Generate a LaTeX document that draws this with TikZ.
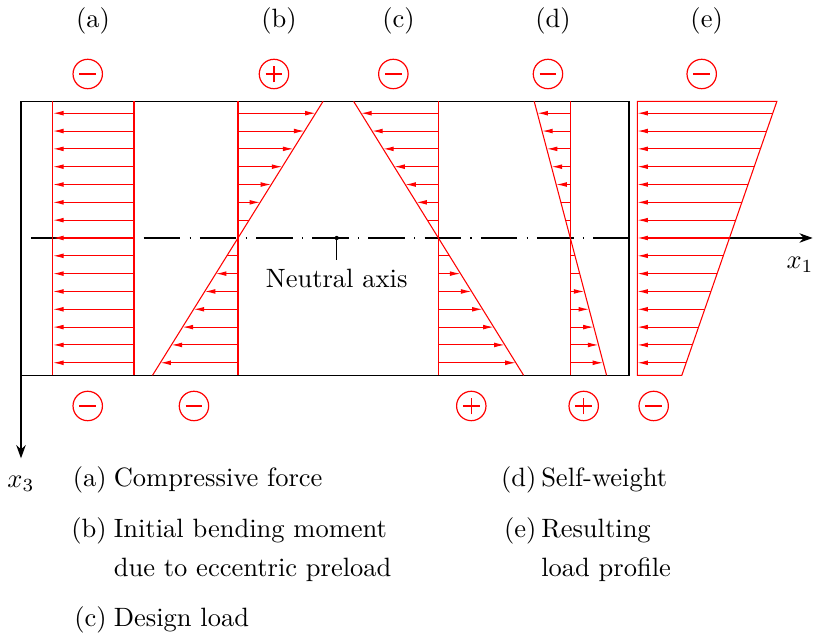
\documentclass[tikz,border=0pt]{standalone}
\usetikzlibrary{arrows.meta,calc,positioning}
\tikzset{
  profile/.style={draw=red, line width=0.4pt},
  load/.style={profile, -{Latex[length=4pt,width=1.8pt]}},
  sign/.style={circle, draw=red, line width=0.45pt, minimum size=0.39cm,
    inner sep=0pt},
  minus/.style={sign, path picture={
    \draw[red, line width=0.45pt]
      ([xshift=-0.11cm]path picture bounding box.center)
      -- ([xshift=0.11cm]path picture bounding box.center);}},
  plus/.style={sign, path picture={
    \draw[red, line width=0.45pt]
      ([xshift=-0.11cm]path picture bounding box.center)
      -- ([xshift=0.11cm]path picture bounding box.center)
      ([yshift=-0.11cm]path picture bounding box.center)
      -- ([yshift=0.11cm]path picture bounding box.center);}},
  axis/.style={line width=0.4pt, -{Stealth[length=5pt,width=3.6pt]}},
  center line/.style={line width=0.4pt,
    dash pattern=on 0.4pt off 3.5pt on 13.8pt off 3.5pt},
  item label/.style={anchor=base east, inner sep=0pt},
  item text/.style={anchor=base west, inner sep=0pt}
}

\begin{document}
\begin{tikzpicture}[line cap=butt]
  \useasboundingbox (-0.2785,-5.2387) rectangle (10.5968,3.1565);

  % cross-section and neutral axis
  \coordinate (O) at (0,0);
  \draw[line width=0.4pt] (0,-1.822) rectangle (8.064,1.812);
  \draw[center line] (O) -- (8.064,0);
  \draw[axis] (0,-1.822) -- (0,-2.922);
  \draw[axis] (8.174,0) -- (10.499,0);
  \node (x1) at (10.332,-0.358) {$x_1$};
  \node (x3) at (0,-3.263) {$x_3$};

  % (a)
  \draw[profile] (0.424,-1.822) -- (0.424,1.812);
  \draw[profile] (1.499,-1.822) -- (1.499,1.812);
  \foreach \k in {-7,...,7} {
    \pgfmathsetmacro{\y}{0.2364*\k}
    \draw[load] (1.499,\y) -- (0.424,\y);
  }

  % (b), (c), (d)
  \foreach \xv/\s/\n in {2.878/0.6225/1, 5.536/-0.6205/1, 7.285/-0.2642/2} {
    \draw[profile] (\xv,-1.822) -- (\xv,1.812);
    \draw[profile] ({\xv-1.822*\s},-1.822) -- ({\xv+1.812*\s},1.812);
    \foreach \k in {-7,...,7} {
      \pgfmathsetmacro{\y}{0.2364*\k}
      \pgfmathsetmacro{\xe}{\xv+\s*\y}
      \pgfmathtruncatemacro{\tip}{abs(\k)>\n}
      \ifnum\tip=1
        \draw[load] (\xv,\y) -- (\xe,\y);
      \else
        \draw[profile] (\xv,\y) -- (\xe,\y);
      \fi
    }
  }

  % (e)
  \draw[profile, fill=white] (8.174,1.812) -- (10.025,1.812) -- (8.764,-1.822)
    -- (8.174,-1.822) -- cycle;
  \foreach \k in {-7,...,7} {
    \pgfmathsetmacro{\y}{0.2364*\k}
    \pgfmathsetmacro{\xe}{9.396+0.347*\y}
    \draw[load] (\xe,\y) -- (8.174,\y);
  }

  % neutral axis label
  \coordinate (na) at (4.187,0);
  \fill (na) circle (0.8pt);
  \draw[line width=0.4pt] (na) -- ++(0,-0.292) node[below] (neutral) {Neutral axis};

  % headings and signs
  \foreach \x/\l in {0.955/a, 3.422/b, 5.007/c, 7.056/d, 9.094/e} {
    \node (head \l) at (\x,2.881) {(\l)};
  }
  \foreach \x/\s/\n in {0.885/minus/a, 3.355/plus/b, 4.938/minus/c,
      6.989/minus/d, 9.028/minus/e} {
    \node[\s] (top \n) at (\x,2.175) {};
  }
  \foreach \x/\s/\n in {0.885/minus/a, 2.294/minus/b, 5.972/plus/c,
      7.463/plus/d, 8.391/minus/e} {
    \node[\s] (bottom \n) at (\x,-2.228) {};
  }

  % legend
  \node[item label] (item a) at (1.143,-3.302) {(a)};
  \node[item text] (text a) at (1.224,-3.302) {Compressive force};
  \node[item label] (item b) at (1.143,-3.966) {(b)};
  \node[item text] (text b) at (1.224,-3.966) {Initial bending moment};
  \node[item text] (text b2) at (1.224,-4.496) {due to eccentric preload};
  \node[item label] (item c) at (1.143,-5.159) {(c)};
  \node[item text] (text c) at (1.224,-5.159) {Design load};
  \node[item label] (item d) at (6.844,-3.302) {(d)};
  \node[item text] (text d) at (6.893,-3.302) {Self-weight};
  \node[item label] (item e) at (6.844,-3.966) {(e)};
  \node[item text] (text e) at (6.893,-3.966) {Resulting};
  \node[item text] (text e2) at (6.893,-4.496) {load profile};
\end{tikzpicture}
\end{document}
